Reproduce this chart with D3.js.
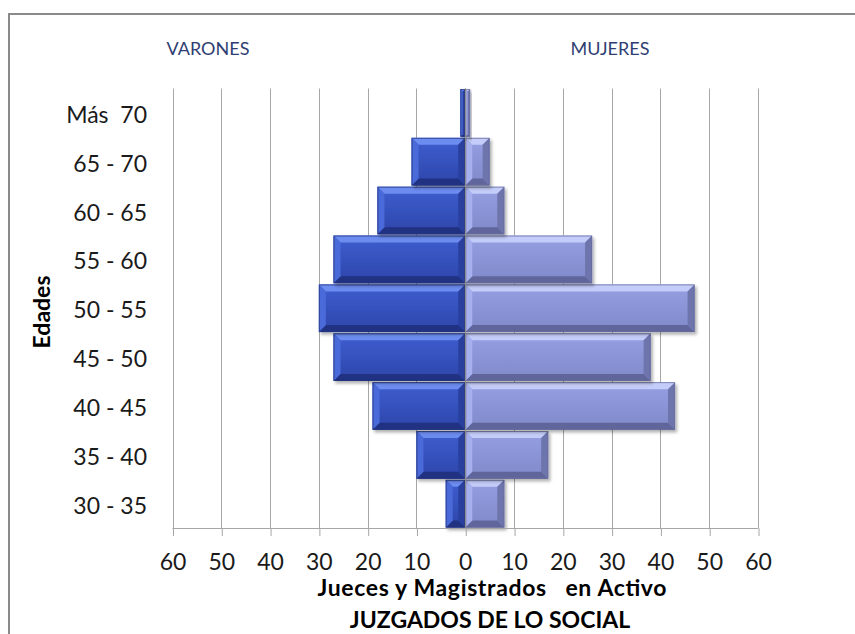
<!DOCTYPE html>
<html><head><meta charset="utf-8">
<script src="https://cdn.jsdelivr.net/npm/d3@7"></script>
<style>
body{margin:0;background:#fff}
text{font-family:Lato,"Noto Sans",sans-serif;white-space:pre}
</style>
</head><body>
<svg id="c" width="855" height="634"></svg>
<script>
const categories = ["30 - 35","35 - 40","40 - 45","45 - 50","50 - 55","55 - 60","60 - 65","65 - 70","Más  70"];
const varones = [4,10,19,27,30,27,18,11,1];
const mujeres = [8,17,43,38,47,26,8,5,1];
const xTicks = [-60,-50,-40,-30,-20,-10,0,10,20,30,40,50,60];
const seriesNames = ["VARONES","MUJERES"];
const xTitle = ["Jueces y Magistrados   en Activo","JUZGADOS DE LO SOCIAL"];
const yTitle = "Edades";

const svg = d3.select("#c");
const W = 855, H = 634;
const plot = {left:172.5, right:758, top:88.5, bottom:528};

svg.append("rect").attr("x",0).attr("y",0).attr("width",W).attr("height",H).attr("fill","#fff");
// frame
svg.append("rect").attr("x",9).attr("y",14).attr("width",W+20).attr("height",H+20)
  .attr("fill","none").attr("stroke","#8a8a8a").attr("stroke-width",2);

const x = d3.scaleLinear().domain([-60,60]).range([plot.left, plot.right]);
const y = d3.scaleBand().domain(categories).range([plot.bottom, plot.top]).paddingInner(0.025).paddingOuter(0.01);

const defs = svg.append("defs");
const pals = {
  m:{g0:"#3f5ed0", g1:"#2d46aa", top:"#6d8cf0", left:"#4a6ad8", right:"#29419e", bottom:"#203182", edge:"#24347e"},
  f:{g0:"#959fe2", g1:"#8089c9", top:"#c4cdf9", left:"#a6b0ee", right:"#6d74ac", bottom:"#61669b", edge:"#666b98"}
};
Object.entries(pals).forEach(([k,p])=>{
  const lg = defs.append("linearGradient").attr("id","g"+k).attr("x1",0).attr("y1",0).attr("x2",0).attr("y2",1);
  lg.append("stop").attr("offset","0%").attr("stop-color",p.g0);
  lg.append("stop").attr("offset","100%").attr("stop-color",p.g1);
});
const flt = defs.append("filter").attr("id","sh").attr("x","-10%").attr("y","-10%").attr("width","130%").attr("height","140%");
flt.append("feDropShadow").attr("dx",2).attr("dy",2.5).attr("stdDeviation",1.8).attr("flood-color","#000").attr("flood-opacity",0.3);

// gridlines
svg.append("g").selectAll("line").data(xTicks).join("line")
  .attr("x1",d=>Math.round(x(d))+0.5).attr("x2",d=>Math.round(x(d))+0.5)
  .attr("y1",plot.top).attr("y2",plot.bottom)
  .attr("stroke","#a6a6a6").attr("stroke-width",1);

function bevelBar(g, x0, y0, w, h, k){
  const p = pals[k];
  const b = Math.min(7, w/2, h/2);
  const bg = g.append("g").attr("filter","url(#sh)");
  bg.append("rect").attr("x",x0).attr("y",y0).attr("width",w).attr("height",h).attr("fill","url(#g"+k+")");
  const poly = (pts,c)=>bg.append("polygon").attr("points",pts.map(q=>q.join(",")).join(" ")).attr("fill",c);
  poly([[x0,y0],[x0+w,y0],[x0+w-b,y0+b],[x0+b,y0+b]], p.top);
  poly([[x0,y0+h],[x0+w,y0+h],[x0+w-b,y0+h-b],[x0+b,y0+h-b]], p.bottom);
  poly([[x0,y0],[x0+b,y0+b],[x0+b,y0+h-b],[x0,y0+h]], p.left);
  poly([[x0+w,y0],[x0+w-b,y0+b],[x0+w-b,y0+h-b],[x0+w,y0+h]], p.right);
  bg.append("rect").attr("x",x0+0.5).attr("y",y0+0.5).attr("width",Math.max(0,w-1)).attr("height",Math.max(0,h-1))
    .attr("fill","none").attr("stroke",p.edge).attr("stroke-width",1).attr("stroke-opacity",0.7);
}

const bars = svg.append("g");
categories.forEach((c,i)=>{
  const yy = y(c), hh = y.bandwidth();
  const xm = x(-varones[i]), x0 = x(0);
  bevelBar(bars, xm, yy, x0 - xm, hh, "m");
  const xf = x(mujeres[i]);
  bevelBar(bars, x0, yy, xf - x0, hh, "f");
});

// zero line on top
svg.append("line").attr("x1",Math.round(x(0))+0.5).attr("x2",Math.round(x(0))+0.5)
  .attr("y1",plot.top).attr("y2",plot.bottom).attr("stroke","#8c8c8c").attr("stroke-width",1.2);

// x axis
const xAxis = d3.axisBottom(x).tickValues(xTicks).tickFormat(d=>Math.abs(d)).tickSize(8).tickSizeOuter(0);
const ga = svg.append("g").attr("transform",`translate(0,${plot.bottom})`).call(xAxis);
ga.select(".domain").attr("stroke","#a6a6a6").attr("d",`M${plot.left},0.5H${plot.right}`);
ga.selectAll(".tick line").attr("stroke","#a6a6a6").attr("transform","translate(0.5,0)");
ga.selectAll(".tick text").attr("y",42).attr("dy",0).attr("font-size",23).attr("fill","#1a1a1a")
  .attr("font-family","Lato");

// y labels
svg.append("g").selectAll("text").data(categories).join("text")
  .attr("x",147).attr("y",c=>y(c)+y.bandwidth()/2+10)
  .attr("text-anchor","end").attr("font-size",23).attr("fill","#1a1a1a").text(c=>c);

// series headers
svg.append("text").attr("x",208).attr("y",55).attr("text-anchor","middle").attr("font-size",18)
  .attr("fill","#2f3e72").text(seriesNames[0]);
svg.append("text").attr("x",610).attr("y",55).attr("text-anchor","middle").attr("font-size",18)
  .attr("fill","#2f3e72").text(seriesNames[1]);

// axis titles
svg.append("text").attr("x",492).attr("y",596).attr("text-anchor","middle").attr("font-size",23)
  .attr("font-weight","bold").attr("fill","#000")
  .attr("textLength",349).attr("lengthAdjust","spacing").text(xTitle[0]);
svg.append("text").attr("x",490).attr("y",628).attr("text-anchor","middle").attr("font-size",23)
  .attr("font-weight","bold").attr("fill","#000").text(xTitle[1]);
svg.append("text").attr("transform","translate(50,312) rotate(-90)").attr("text-anchor","middle")
  .attr("font-size",23).attr("font-weight","bold").attr("fill","#000").text(yTitle);
</script>
</body></html>
